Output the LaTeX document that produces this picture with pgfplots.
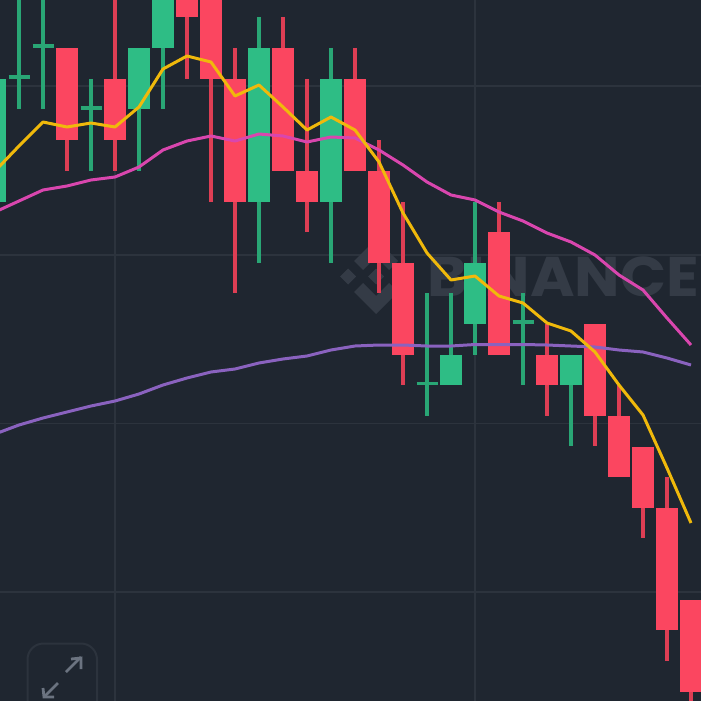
\documentclass[border=0pt]{standalone}
\usepackage{pgfplots}
\pgfplotsset{compat=1.18}
\usepackage{fontspec}
\setmainfont{Poppins}
\definecolor{bgc}{HTML}{1F2630}
\definecolor{gridc}{HTML}{2C333D}
\definecolor{wmc}{HTML}{343B46}
\definecolor{upc}{HTML}{2EBD85}
\definecolor{dnc}{HTML}{FB4660}
\definecolor{ma7}{HTML}{F0B90B}
\definecolor{ma25}{HTML}{D946AE}
\definecolor{ma99}{HTML}{8A62BF}
\definecolor{iconc}{HTML}{6B7380}
\begin{document}
\begin{tikzpicture}
\begin{axis}[
  scale only axis, width=701pt, height=701pt,
  xmin=0, xmax=701, ymin=0, ymax=701, y dir=reverse,
  axis line style={draw=none},
  axis background/.style={fill=bgc},
  xtick={115,475}, ytick={86,255,423.5,592},
  xticklabel=\empty, yticklabel=\empty,
  major tick length=0pt,
  grid=major, grid style={gridc, line width=1.2pt},
  unbounded coords=jump, clip=true,
]
% watermark
\node[anchor=west, text=wmc, inner sep=0pt, font=\fontsize{56}{56}\selectfont\bfseries] at (axis cs:427,277) {\scalebox{1.08}[1]{BINANCE}};
\fill[wmc] (axis cs:340,276.5) -- (axis cs:348,268.5) -- (axis cs:356,276.5) -- (axis cs:348,284.5) -- cycle;
\fill[wmc] (axis cs:368,276.5) -- (axis cs:376,268.5) -- (axis cs:384,276.5) -- (axis cs:376,284.5) -- cycle;
\fill[wmc] (axis cs:396,276.5) -- (axis cs:404,268.5) -- (axis cs:412,276.5) -- (axis cs:404,284.5) -- cycle;
\fill[wmc] (axis cs:354,261) -- (axis cs:376,239) -- (axis cs:398,261) -- (axis cs:389,270) -- (axis cs:376,257) -- (axis cs:363,270) -- cycle;
\fill[wmc] (axis cs:354,292) -- (axis cs:376,314) -- (axis cs:398,292) -- (axis cs:389,283) -- (axis cs:376,296) -- (axis cs:363,283) -- cycle;
% wicks, falling candles
\addplot[dnc!88!black, line width=3.3pt, forget plot] coordinates {
 (67,48)(67,171)(67,nan)
 (115,-20)(115,171)(115,nan)
 (187,-20)(187,79)(187,nan)
 (211,-20)(211,202)(211,nan)
 (235,48)(235,293)(235,nan)
 (283,17)(283,171)(283,nan)
 (307,79)(307,232)(307,nan)
 (355,48)(355,171)(355,nan)
 (379,140)(379,293)(379,nan)
 (403,202)(403,385)(403,nan)
 (499,202)(499,355)(499,nan)
 (547,324)(547,416)(547,nan)
 (595,324)(595,446)(595,nan)
 (619,385)(619,477)(619,nan)
 (643,447)(643,538)(643,nan)
 (667,477)(667,661)(667,nan)
 (691,600)(691,720)
};
% wicks, rising candles
\addplot[upc!88!black, line width=3.3pt, forget plot] coordinates {
 (-5,79)(-5,202)(-5,nan)
 (19,-20)(19,109)(19,nan)
 (43,-20)(43,109)(43,nan)
 (91,79)(91,171)(91,nan)
 (139,48)(139,171)(139,nan)
 (163,-20)(163,109)(163,nan)
 (259,17)(259,263)(259,nan)
 (331,48)(331,263)(331,nan)
 (427,293)(427,416)(427,nan)
 (451,293)(451,385)(451,nan)
 (475,202)(475,355)(475,nan)
 (523,293)(523,385)(523,nan)
 (571,355)(571,446)
};
% bodies, falling candles
\addplot[dnc, line width=21.5pt, forget plot] coordinates {
 (67,48)(67,140)(67,nan)
 (115,79)(115,140)(115,nan)
 (187,-20)(187,17)(187,nan)
 (211,-20)(211,79)(211,nan)
 (235,79)(235,202)(235,nan)
 (283,48)(283,171)(283,nan)
 (307,171)(307,202)(307,nan)
 (355,79)(355,171)(355,nan)
 (379,171)(379,263)(379,nan)
 (403,263)(403,355)(403,nan)
 (499,232)(499,355)(499,nan)
 (547,355)(547,385)(547,nan)
 (595,324)(595,416)(595,nan)
 (619,416)(619,477)(619,nan)
 (643,447)(643,508)(643,nan)
 (667,508)(667,630)(667,nan)
 (691,600)(691,692)
};
% bodies, rising candles
\addplot[upc, line width=21.5pt, forget plot] coordinates {
 (-5,79)(-5,202)(-5,nan)
 (139,48)(139,109)(139,nan)
 (163,-20)(163,48)(163,nan)
 (259,48)(259,202)(259,nan)
 (331,79)(331,202)(331,nan)
 (451,355)(451,385)(451,nan)
 (475,263)(475,324)(475,nan)
 (571,355)(571,385)
};
% dojis
\addplot[upc!88!black, line width=3.3pt, forget plot] coordinates {
 (8.5,77)(29.5,77)(19,nan)
 (32.5,46)(53.5,46)(43,nan)
 (80.5,108)(101.5,108)(91,nan)
 (416.5,383.5)(437.5,383.5)(427,nan)
 (512.5,322)(533.5,322)
};
% MA99
\addplot[ma99, line width=3pt, line join=round, forget plot] coordinates {
 (-5,434)(19,425)(43,418)(67,412)(91,406)(115,401)(139,394)(163,385)(187,378)(211,372)(235,369)(259,363)(283,359)(307,356)(331,350)(355,346)(379,345)(403,345)(427,346)(451,346)(475,344.5)(499,344.5)(523,344.5)(547,345)(571,346)(595,347)(619,350)(643,352)(667,358)(691,365)
};
% MA25
\addplot[ma25, line width=3pt, line join=round, forget plot] coordinates {
 (-5,212)(19,201)(43,190)(67,186)(91,180)(115,177)(139,167)(163,150)(187,141)(211,136)(235,141)(259,134)(283,136)(307,142)(331,137)(355,138)(379,150)(403,165)(427,182)(451,195)(475,200)(499,212)(523,221)(547,233)(571,242)(595,255)(619,275)(643,290)(667,318)(691,345)
};
% MA7
\addplot[ma7, line width=3pt, line join=round, forget plot] coordinates {
 (-5,171)(19,146)(43,122)(67,127)(91,123)(115,127)(139,107)(163,69)(187,56)(211,62)(235,96)(259,85)(283,107)(307,130)(331,117)(355,130)(379,162)(403,213)(427,253)(451,280)(475,276)(499,296)(523,303)(547,323)(571,331)(595,352)(619,385)(643,415)(667,468)(691,523)
};
% expand icon
\draw[gridc, line width=2pt, rounded corners=16pt] (axis cs:27.5,760) rectangle (axis cs:97,643.5);
\draw[iconc, line width=2.8pt] (axis cs:66,672) -- (axis cs:81,657);
\draw[iconc, line width=2.8pt] (axis cs:71,659) -- (axis cs:81,658) -- (axis cs:81,669);
\draw[iconc, line width=2.8pt] (axis cs:58,683) -- (axis cs:44,697);
\draw[iconc, line width=2.8pt] (axis cs:43,688) -- (axis cs:44,697) -- (axis cs:54,697);
\end{axis}
\pgfresetboundingbox
\path[use as bounding box] (0,0) rectangle (701pt,701pt);
\end{tikzpicture}
\end{document}
